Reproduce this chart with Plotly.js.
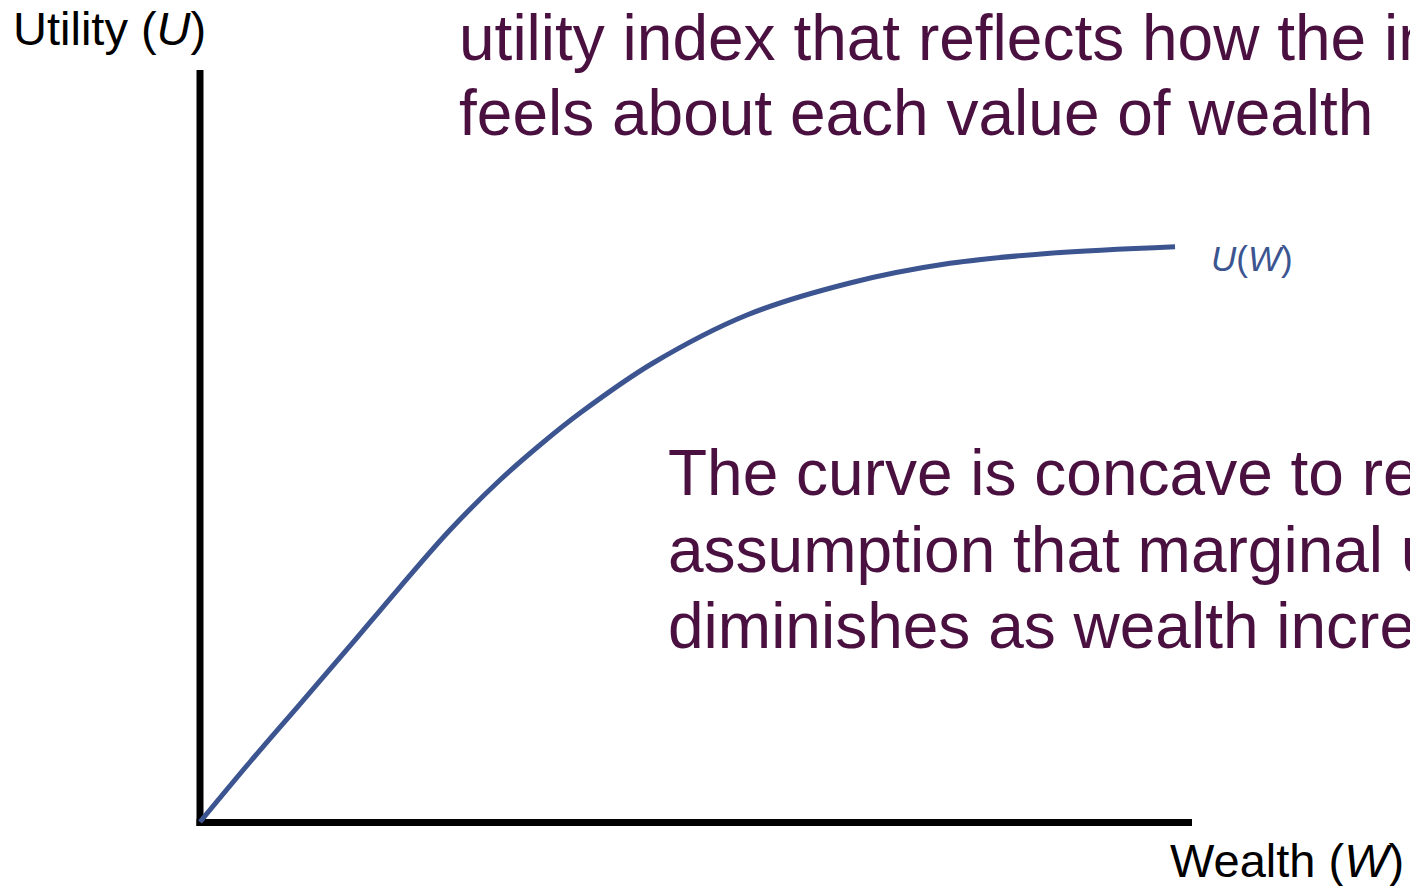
<!DOCTYPE html>
<html>
<head>
<meta charset="utf-8">
<script src="https://cdn.plot.ly/plotly-3.0.1.min.js"></script>
<style>
  html, body { margin: 0; padding: 0; background: #ffffff; }
  #chart { width: 1410px; height: 886px; }
</style>
</head>
<body>
<div id="chart"></div>
<script>
// Data (wealth W, utility U in axis units)
const wealth  = [0, 0.504, 1.008, 1.512, 2.016, 2.520, 3.024, 3.427, 3.831, 4.567, 5.514, 6.552, 7.560, 8.569, 9.829];
const utility = [0, 0.800, 1.573, 2.347, 3.133, 3.893, 4.560, 5.027, 5.453, 6.120, 6.760, 7.187, 7.449, 7.583, 7.671];

const curveLabel = "<i>U</i>(<i>W</i>)";
const xTitle = "Wealth (<i>W</i>)";
const yTitle = "Utility (<i>U</i>)";
const noteTop = ["utility index that reflects how the individual", "feels about each value of wealth"];
const noteMid = ["The curve is concave to reflect the", "assumption that marginal utility", "diminishes as wealth increases"];

const W = 1410, H = 886;
// plot box in pixels
const L = 150, R = 1250, T = 40, B = 860;
// axis origin / scale in pixels
const X0 = 200, XS = 99.2, Y0 = 822, YS = 75;

const px = x => (x - L) / (R - L);
const py = y => (B - y) / (B - T);
const FONT = "Liberation Sans, Arial, sans-serif";
const PURPLE = "#4a1040";
const BLUE = "#3c5590";

function ann(text, xPix, baseline, size, color) {
  return {
    text: text, xref: "paper", yref: "paper",
    x: px(xPix), y: py(baseline - 0.347 * size),
    xanchor: "left", yanchor: "middle", showarrow: false,
    font: { family: FONT, size: size, color: color }
  };
}

const annotations = [
  ann(yTitle, 11, 45, 47, "#000000"),
  ann(xTitle, 1168, 877, 47, "#000000"),
  ann(curveLabel, 1209, 271, 35, BLUE),
  ann(noteTop[0], 457, 60, 64, PURPLE),
  ann(noteTop[1], 457, 135, 64, PURPLE),
  ann(noteMid[0], 666, 495, 64, PURPLE),
  ann(noteMid[1], 666, 572, 64, PURPLE),
  ann(noteMid[2], 666, 648, 64, PURPLE)
];

const shapes = [
  { type: "line", layer: "below", xref: "x", yref: "y", x0: 0, x1: 0, y0: -4 / YS, y1: (Y0 - 70) / YS,
    line: { color: "#000000", width: 7 } },
  { type: "line", layer: "below", xref: "x", yref: "y", x0: -3.5 / XS, x1: (1192 - X0) / XS, y0: -0.5 / YS, y1: -0.5 / YS,
    line: { color: "#000000", width: 7 } }
];

const trace = {
  x: wealth, y: utility, type: "scatter", mode: "lines",
  line: { color: BLUE, width: 5, shape: "spline", smoothing: 1.0 },
  hoverinfo: "skip"
};

const layout = {
  width: W, height: H,
  margin: { l: L, r: W - R, t: T, b: H - B, pad: 0 },
  paper_bgcolor: "#ffffff", plot_bgcolor: "#ffffff",
  showlegend: false,
  xaxis: { range: [(L - X0) / XS, (R - X0) / XS], showgrid: false, zeroline: false, showline: false, showticklabels: false, ticks: "", fixedrange: true },
  yaxis: { range: [(Y0 - B) / YS, (Y0 - T) / YS], showgrid: false, zeroline: false, showline: false, showticklabels: false, ticks: "", fixedrange: true },
  shapes: shapes,
  annotations: annotations
};

Plotly.newPlot("chart", [trace], layout, { displayModeBar: false, staticPlot: true });
</script>
</body>
</html>
